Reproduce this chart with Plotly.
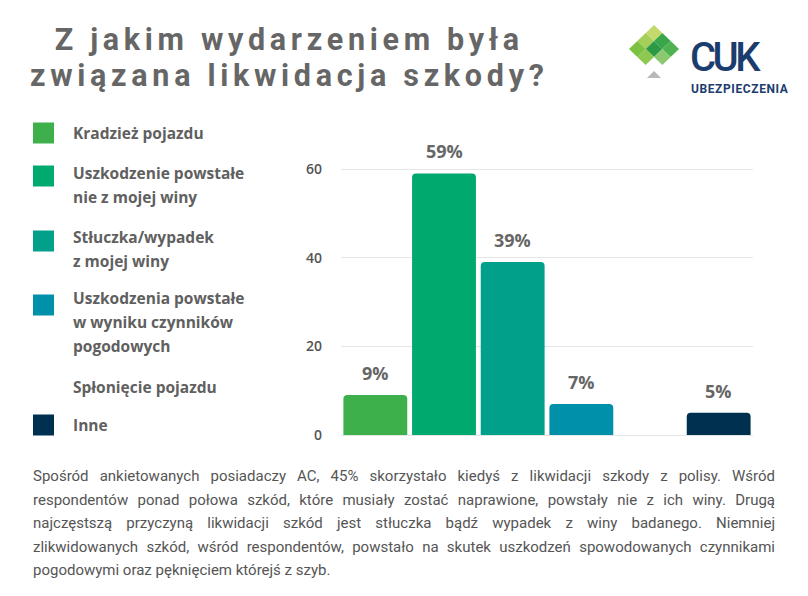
import json
import plotly.graph_objects as go

# ---------------- data ----------------
categories = [
    "Kradzież pojazdu",
    "Uszkodzenie powstałe nie z mojej winy",
    "Stłuczka/wypadek z mojej winy",
    "Uszkodzenia powstałe w wyniku czynników pogodowych",
    "Spłonięcie pojazdu",
    "Inne",
]
legend_lines = [
    ["Kradzież pojazdu"],
    ["Uszkodzenie powstałe", "nie z mojej winy"],
    ["Stłuczka/wypadek", "z mojej winy"],
    ["Uszkodzenia powstałe", "w wyniku czynników", "pogodowych"],
    ["Spłonięcie pojazdu"],
    ["Inne"],
]
values = [9, 59, 39, 7, None, 5]
colors = ["#3db04b", "#00a96e", "#00a08b", "#0090a9", "#ffffff", "#00304f"]
y_ticks = [0, 20, 40, 60]
title_lines = ["Z jakim wydarzeniem była", "związana likwidacja szkody?"]
paragraph_lines = [
    "Spośród ankietowanych posiadaczy AC, 45% skorzystało kiedyś z likwidacji szkody z polisy. Wśród",
    "respondentów ponad połowa szkód, które musiały zostać naprawione, powstały nie z ich winy. Drugą",
    "najczęstszą przyczyną likwidacji szkód jest stłuczka bądź wypadek z winy badanego. Niemniej",
    "zlikwidowanych szkód, wśród respondentów, powstało na skutek uszkodzeń spowodowanych czynnikami",
    "pogodowymi oraz pęknięciem którejś z szyb.",
]
logo_name = "CUK"
logo_sub = "UBEZPIECZENIA"

# ---------------- layout geometry ----------------
W, H = 808, 596
L, R, T, B = 341, 55, 140, 161
PW = W - L - R
PH = H - T - B


def fx(px):
    return (px - L) / PW


def fy(py):
    return (H - B - py) / PH


grey_text = "#666666"

fig = go.Figure()
fig.add_trace(
    go.Bar(
        x=categories,
        y=values,
        marker=dict(color=colors, line=dict(width=0)),
        showlegend=False,
        hoverinfo="x+y",
    )
)

annotations = []
shapes = []

# value labels above bars
for c, v in zip(categories, values):
    if v is None:
        continue
    annotations.append(
        dict(
            x=c, y=v, xref="x", yref="y", text=f"{v}%", showarrow=False,
            yanchor="middle", yshift=22,
            font=dict(family="Open Sans", size=18, color=grey_text, weight="bold"),
        )
    )

# title: one annotation, line pitch set by the base font size (1.3 x base)
title_text = "<br>".join(
    f'<span style="letter-spacing:4.7px;font-size:30.5px">{line}</span>' for line in title_lines
)
annotations.append(
    dict(
        x=fx(289), y=fy(57.5), xref="paper", yref="paper",
        text=title_text, showarrow=False, xanchor="center", yanchor="middle", align="center",
        font=dict(family="Roboto", size=27.7, color=grey_text, weight="bold"),
    )
)

# legend (custom)
first_line_y = [133, 173, 237, 298, 387, 425]
swatch_y = [133, 176, 241, 305, 387, 425]
line_gap = 24
for lines, ly, sy, col in zip(legend_lines, first_line_y, swatch_y, colors):
    shapes.append(
        dict(
            type="rect", xref="paper", yref="paper",
            x0=fx(33), x1=fx(54), y0=fy(sy - 10.5), y1=fy(sy + 10.5),
            fillcolor=col, line=dict(width=0), layer="above",
        )
    )
    for k, t in enumerate(lines):
        annotations.append(
            dict(
                x=fx(71), y=fy(ly + k * line_gap), xref="paper", yref="paper",
                text=t, showarrow=False, xanchor="left", yanchor="middle",
                font=dict(family="Open Sans", size=15.5, color="#606060", weight="bold"),
            )
        )

# paragraph (lines 1-4 are justified by word spacing in the page script below)
para_y = [476.5, 500, 523, 546.5, 570]
for t, py in zip(paragraph_lines, para_y):
    annotations.append(
        dict(
            x=fx(31), y=fy(py), xref="paper", yref="paper",
            text=t, showarrow=False, xanchor="left", yanchor="middle", align="left",
            font=dict(family="Roboto", size=15, color="#555555"),
        )
    )

# logo: diamond of tiles
top = (654, 25)
u = (8.33, 8)
v = (-8.33, 8)
tile_colors = {
    (0, 0): "#c3d96c", (1, 0): "#3aa64a", (2, 0): "#4db24f",
    (0, 1): "#a5cf58", (1, 1): "#2c9a45", (2, 1): "#8cc870",
    (0, 2): "#7cc242", (1, 2): "#8fc850",
}
for (i, j), col in tile_colors.items():
    p0 = (top[0] + i * u[0] + j * v[0], top[1] + i * u[1] + j * v[1])
    pts = [p0, (p0[0] + u[0], p0[1] + u[1]), (p0[0] + u[0] + v[0], p0[1] + u[1] + v[1]), (p0[0] + v[0], p0[1] + v[1])]
    path = "M " + " L ".join(f"{fx(a):.5f},{fy(b):.5f}" for a, b in pts) + " Z"
    shapes.append(dict(type="path", xref="paper", yref="paper", path=path,
                       fillcolor=col, line=dict(width=0), layer="above"))
tri = [(654, 71), (661, 78), (647, 78)]
shapes.append(dict(type="path", xref="paper", yref="paper",
                   path="M " + " L ".join(f"{fx(a):.5f},{fy(b):.5f}" for a, b in tri) + " Z",
                   fillcolor="#b8b8b8", line=dict(width=0), layer="above"))
annotations.append(
    dict(x=fx(688), y=fy(57), xref="paper", yref="paper",
         text=f'<span style="letter-spacing:-3.5px">{logo_name}</span>', showarrow=False,
         xanchor="left", yanchor="middle",
         font=dict(family="Roboto", size=40, color="#1b3d6e", weight=500))
)
annotations.append(
    dict(x=fx(689), y=fy(88.5), xref="paper", yref="paper",
         text=f'<span style="letter-spacing:0.6px">{logo_sub}</span>', showarrow=False,
         xanchor="left", yanchor="middle",
         font=dict(family="Roboto", size=12, color="#1b3d6e", weight="bold"))
)

fig.update_layout(
    width=W, height=H,
    margin=dict(l=L, r=R, t=T, b=B, pad=0),
    paper_bgcolor="white", plot_bgcolor="white",
    bargap=0.07, barcornerradius=4,
    xaxis=dict(showticklabels=False, showgrid=False, zeroline=False, showline=False, ticks=""),
    yaxis=dict(
        range=[0, PH / (266 / 60)], tickvals=y_ticks, ticktext=[str(t) for t in y_ticks],
        showgrid=True, gridcolor="#e6e6e6", gridwidth=1,
        zeroline=True, zerolinecolor="#e6e6e6", zerolinewidth=1,
        showline=False, ticks="", ticklabelstandoff=18,
        tickfont=dict(family="Open Sans", size=14, color="#555555", weight=600),
    ),
    annotations=annotations,
    shapes=shapes,
    font=dict(family="Open Sans"),
)

justify_width = 742
post = """
document.body.style.margin = '0';
var gd = document.getElementById('{plot_id}');
var lines = %s;
var target = %d;
gd.querySelectorAll('text.annotation-text').forEach(function (t) {
  var s = t.textContent;
  if (lines.indexOf(s) < 0) return;
  var n = (s.match(/ /g) || []).length;
  var w = t.getComputedTextLength();
  if (n > 0 && w < target) { t.style.wordSpacing = ((target - w) / n) + 'px'; }
});
""" % (json.dumps(paragraph_lines[:-1]), justify_width)

fig.write_html("out.html", post_script=post, config={"displayModeBar": False})
